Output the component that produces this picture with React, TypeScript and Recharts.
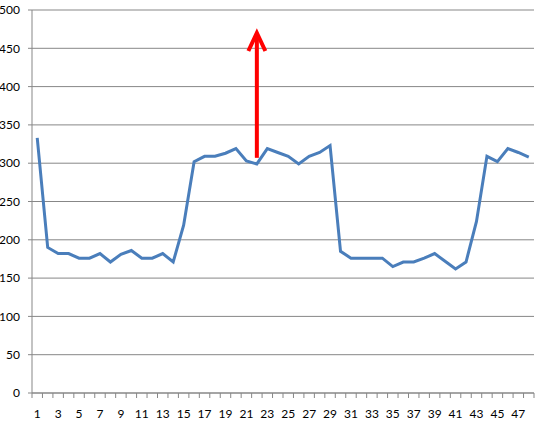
import React from 'react';
import { LineChart, Line, XAxis, YAxis, CartesianGrid, ReferenceLine } from 'recharts';

const categories: number[] = Array.from({ length: 48 }, (_, i) => i + 1);
const values: number[] = [
  333, 190, 182, 182, 176, 176, 182, 171, 181, 186,
  176, 176, 182, 171, 219, 302, 309, 309, 313, 319,
  303, 299, 319, 314, 309, 299, 309, 314, 323, 185,
  176, 176, 176, 176, 165, 171, 171, 176, 182, 172,
  162, 171, 224, 309, 302, 319, 314, 308,
];
const yTicks: number[] = [0, 50, 100, 150, 200, 250, 300, 350, 400, 450, 500];
const arrowX = 22;
const arrowFrom = 307;
const arrowTo = 470;

const data = categories.map((c, i) => ({ x: c, v: values[i] }));
const xTicks: number[] = [];
for (let i = 0; i <= 48; i++) {
  xTicks.push(i + 0.5);
  if (i < 48 && (i + 1) % 2 === 1) xTicks.push(i + 1);
}

const FONT = 'Lato, "Open Sans", sans-serif';
const GRID = '#878787';

const XTick = (props: any) => {
  const { x, y, payload } = props;
  const v = payload.value;
  // y here = axis y + tickSize(6) + tickMargin(2)
  const axisY = y - 8;
  if (Math.abs(v - Math.round(v)) > 0.1) {
    return <line x1={x} x2={x} y1={axisY} y2={axisY + 5} stroke={GRID} strokeWidth={1} />;
  }
  return (
    <text x={x} y={axisY + 22} textAnchor="middle" dominantBaseline="middle" fontSize={12} fontFamily={FONT} fill="#000">
      {v}
    </text>
  );
};

const ArrowShape = (props: any) => {
  const { x1, y1, x2, y2 } = props;
  const top = Math.min(y1, y2);
  const bottom = Math.max(y1, y2);
  const x = (x1 + x2) / 2;
  return (
    <g>
      <line x1={x} x2={x} y1={bottom} y2={top + 3} stroke="#ff0000" strokeWidth={4} />
      <polyline
        points={`${x - 8.5},${top + 18} ${x},${top} ${x + 8.5},${top + 18}`}
        fill="none"
        stroke="#ff0000"
        strokeWidth={4}
        strokeLinejoin="miter"
      />
    </g>
  );
};

export default function App() {
  return (
    <div style={{ position: 'absolute', left: 0, top: 0, width: 553, height: 424, background: '#fff' }}>
      <LineChart width={553} height={424} data={data} margin={{ top: 10, right: 19, bottom: 0, left: 0 }}>
        <CartesianGrid vertical={false} stroke={GRID} strokeWidth={1} />
        <XAxis
          dataKey="x"
          type="number"
          domain={[0.5, 48.5]}
          ticks={xTicks}
          interval={0}
          tickLine={false}
          axisLine={{ stroke: GRID }}
          tick={<XTick />}
          height={31}
        />
        <YAxis
          type="number"
          domain={[0, 500]}
          ticks={yTicks}
          interval={0}
          width={32}
          axisLine={{ stroke: GRID }}
          tickLine={{ stroke: GRID }}
          tickSize={4}
          tick={{ fontSize: 12, fontFamily: FONT, fill: '#000' }}
          tickMargin={8}
        />
        <Line
          dataKey="v"
          type="linear"
          stroke="#4A7EBB"
          strokeWidth={3}
          dot={false}
          isAnimationActive={false}
        />
        <ReferenceLine
          segment={[{ x: arrowX, y: arrowFrom }, { x: arrowX, y: arrowTo }]}
          stroke="#ff0000"
          shape={<ArrowShape />}
          ifOverflow="visible"
        />
      </LineChart>
    </div>
  );
}
